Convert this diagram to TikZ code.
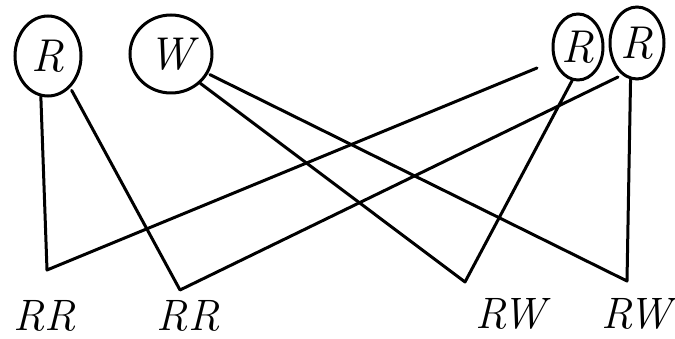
\documentclass[tikz,border=0pt]{standalone}
\usetikzlibrary{shapes.geometric}
\begin{document}
\begin{tikzpicture}[x=1pt,y=-1pt,
  ring/.style={ellipse,draw,line width=3pt,inner sep=0pt,font=\fontsize{46}{46}\selectfont\itshape},
  lab/.style={font=\fontsize{44}{44}\selectfont\itshape,inner sep=0pt},
  wire/.style={line width=3pt,line join=round,line cap=round}]
\useasboundingbox (0,0) rectangle (675,339);
\node[ring,minimum width=66pt,minimum height=80pt] (c1) at (48,56) {R};
\node[ring,minimum width=82pt,minimum height=78pt] (c2) at (171,54) {W};
\node[ring,minimum width=50pt,minimum height=66pt] (c3) at (578,47) {R};
\node[ring,minimum width=54pt,minimum height=72pt] (c4) at (637,43) {R};
\coordinate (k1) at (47,270);
\coordinate (k2) at (180,290);
\coordinate (k3) at (465,282);
\coordinate (k4) at (627,281);
\coordinate (e1) at (537,68);
\coordinate (e2) at (618,77);
\node[lab] (t1) at (45,316) {RR};
\node[lab] (t2) at (188,316) {RR};
\node[lab] (t3) at (510,314) {RW};
\node[lab] (t4) at (636,314) {RW};
\draw[wire] (c1.-100) -- (k1) -- (e1);
\draw[wire,shorten <=3pt] (c1.-55) -- (k2) -- (e2);
\draw[wire] (c2.-45) -- (k3) -- (c3.-100);
\draw[wire,shorten <=2pt] (c2.-28) -- (k4) -- (c4.-100);
\end{tikzpicture}
\end{document}
